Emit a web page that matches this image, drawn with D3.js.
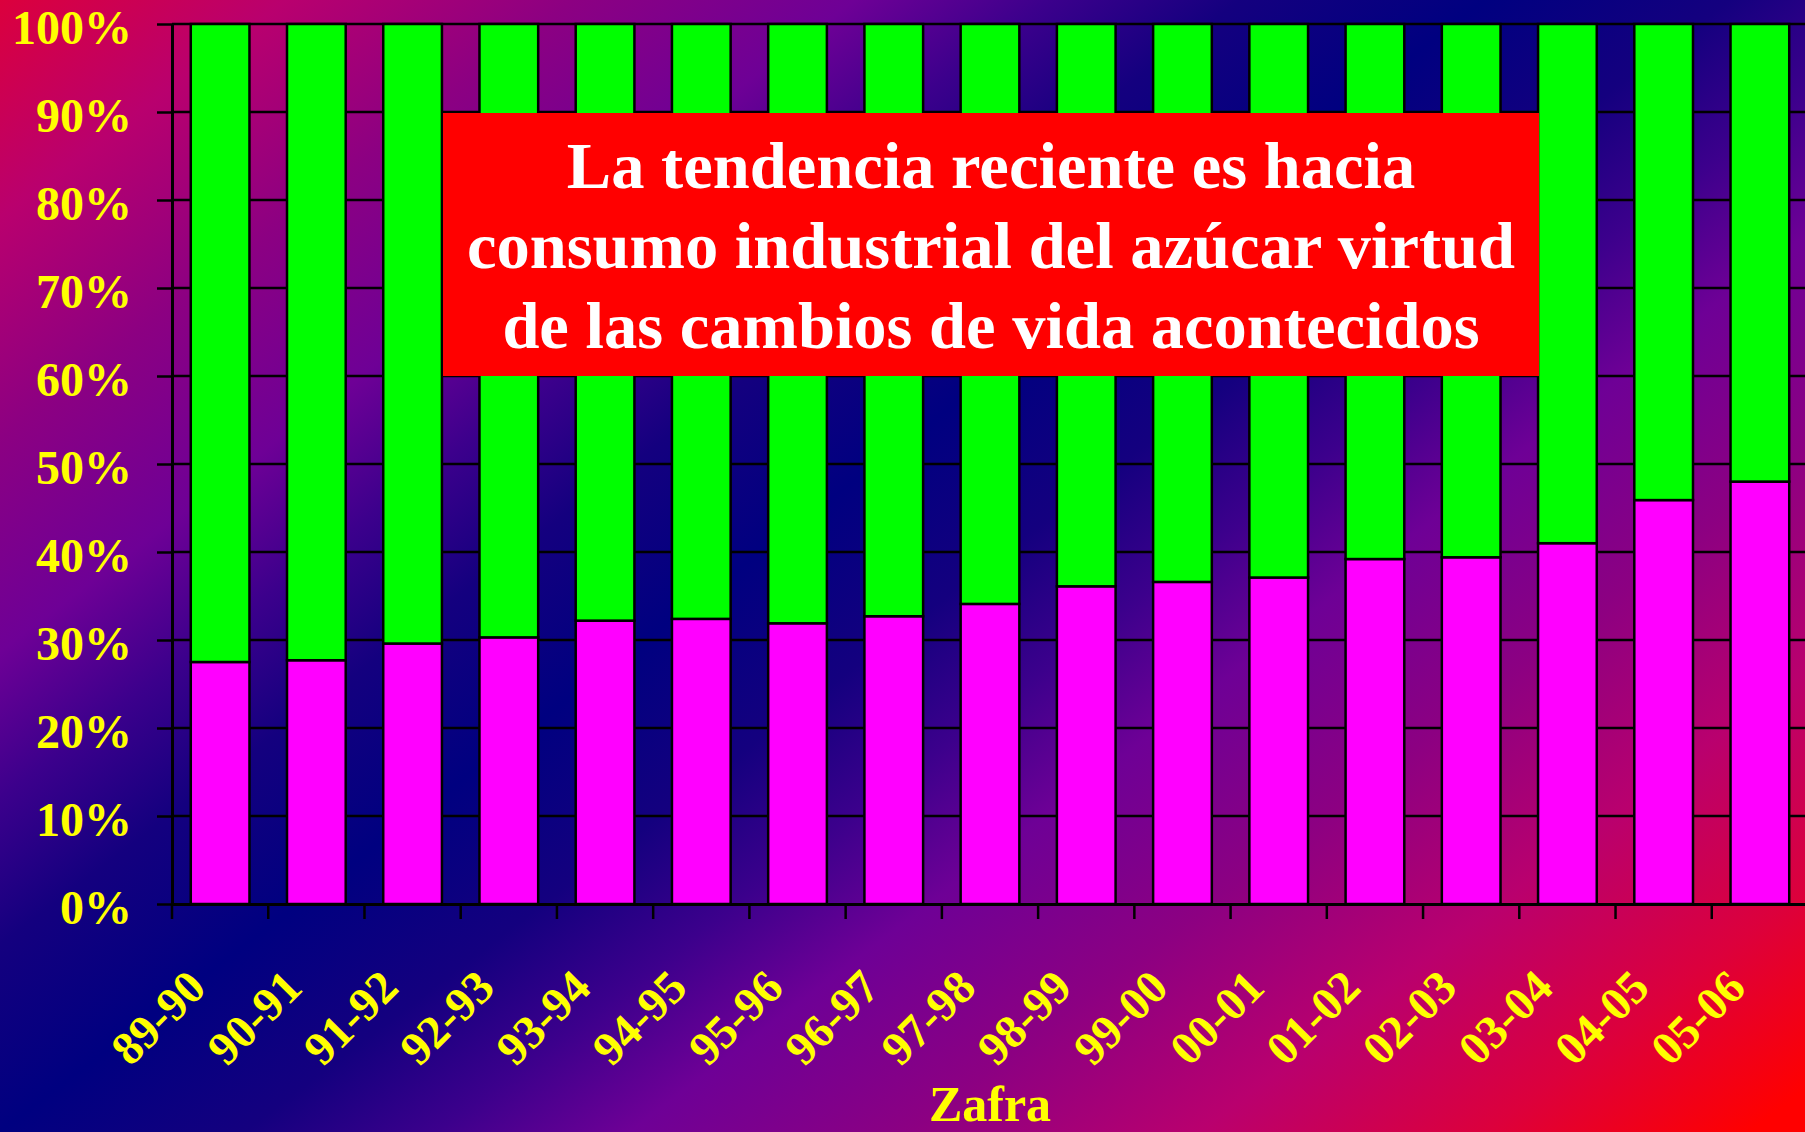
<!DOCTYPE html>
<html>
<head>
<meta charset="utf-8">
<script src="https://cdn.jsdelivr.net/npm/d3@7"></script>
<style>
  html, body { margin: 0; padding: 0; background: #000080; }
  svg { display: block; }
</style>
</head>
<body>
<svg id="chart" width="1805" height="1132"></svg>
<script>
// ---- data ----
const categories = ["89-90","90-91","91-92","92-93","93-94","94-95","95-96","96-97","97-98","98-99","99-00","00-01","01-02","02-03","03-04","04-05","05-06"];
const industrialPct = [27.5, 27.7, 29.6, 30.3, 32.2, 32.4, 31.9, 32.7, 34.1, 36.1, 36.6, 37.1, 39.2, 39.4, 41.0, 45.9, 48.0];
const domesticPct = industrialPct.map(v => 100 - v);
const yTicks = [0,10,20,30,40,50,60,70,80,90,100];
const xTitle = "Zafra";
const noteLines = ["La tendencia reciente es hacia", "consumo industrial del azúcar virtud", "de las cambios de vida acontecidos"];

// ---- layout ----
const W = 1805, H = 1132;
const plot = { left: 172, right: 1808, top: 24, bottom: 904 };
const serif = "'Liberation Serif', 'Times New Roman', Times, serif";

const svg = d3.select("#chart");
const defs = svg.append("defs");
const grad = defs.append("linearGradient")
  .attr("id", "bg").attr("gradientUnits", "userSpaceOnUse")
  .attr("x1", 842).attr("y1", -844).attr("x2", 2128).attr("y2", 844);
// background ramp: red -> magenta/purple -> navy -> purple -> red
const ramp = [
  [0, "#000080"], [0.14, "#14007f"], [0.25, "#3c008c"], [0.36, "#6e0096"],
  [0.52, "#8c0082"], [0.685, "#b9006e"], [0.85, "#dc003c"], [1, "#ff0000"]
];
const stops = [];
ramp.forEach(([f, c]) => { stops.push([0.5 - f / 2, c]); if (f > 0) stops.push([0.5 + f / 2, c]); });
stops.sort((a, b) => a[0] - b[0]);
grad.selectAll("stop").data(stops).join("stop")
  .attr("offset", d => d[0]).attr("stop-color", d => d[1]);
svg.append("rect").attr("width", W).attr("height", H).attr("fill", "url(#bg)");

const x = d3.scaleBand().domain(categories).range([plot.left, plot.right])
  .paddingInner(0.39).paddingOuter(0.195);
const y = d3.scaleLinear().domain([0, 100]).range([plot.bottom, plot.top]);

// gridlines
svg.append("g").selectAll("line").data(yTicks.filter(d => d > 0)).join("line")
  .attr("x1", plot.left).attr("x2", plot.right)
  .attr("y1", d => y(d)).attr("y2", d => y(d))
  .attr("stroke", "#000").attr("stroke-width", 2.5);

// bars
const rows = categories.map((c, i) => ({ c, ind: industrialPct[i], dom: domesticPct[i] }));
const bars = svg.append("g");
bars.selectAll("rect.ind").data(rows).join("rect").attr("class", "ind")
  .attr("x", d => x(d.c)).attr("width", x.bandwidth())
  .attr("y", d => y(d.ind)).attr("height", d => y(0) - y(d.ind))
  .attr("fill", "#ff00ff").attr("stroke", "#000").attr("stroke-width", 2.5);
bars.selectAll("rect.dom").data(rows).join("rect").attr("class", "dom")
  .attr("x", d => x(d.c)).attr("width", x.bandwidth())
  .attr("y", d => y(d.ind + d.dom)).attr("height", d => y(d.ind) - y(d.ind + d.dom))
  .attr("fill", "#00ff00").attr("stroke", "#000").attr("stroke-width", 2.5);

// y axis
const yAxis = svg.append("g").attr("transform", `translate(${plot.left},0)`)
  .call(d3.axisLeft(y).tickValues(yTicks).tickSize(15).tickSizeOuter(0).tickFormat(d => d + "%"));
yAxis.select(".domain").attr("stroke", "#000").attr("stroke-width", 3);
yAxis.selectAll(".tick line").attr("stroke", "#000").attr("stroke-width", 2.5);
yAxis.selectAll(".tick text")
  .attr("x", -40).attr("dy", "0.4em")
  .attr("fill", "#ffff00").attr("font-family", serif).attr("font-weight", "bold").attr("font-size", 48);

// x axis
const xAxis = svg.append("g").attr("transform", `translate(0,${plot.bottom})`)
  .call(d3.axisBottom(x).tickSize(0).tickSizeOuter(0));
xAxis.select(".domain").attr("stroke", "#000").attr("stroke-width", 3);
xAxis.selectAll(".tick text")
  .attr("text-anchor", "end")
  .attr("transform", "translate(-12,86) rotate(-45)")
  .attr("x", 0).attr("y", 0).attr("dy", 0)
  .attr("fill", "#ffff00").attr("font-family", serif).attr("font-weight", "bold").attr("font-size", 47);
const gap = x.step() * x.paddingInner() / 2;
svg.append("g").selectAll("line").data(categories).join("line")
  .attr("x1", d => x(d) - gap).attr("x2", d => x(d) - gap)
  .attr("y1", plot.bottom).attr("y2", plot.bottom + 15)
  .attr("stroke", "#000").attr("stroke-width", 2.5);

// x title
svg.append("text").attr("x", (plot.left + plot.right) / 2).attr("y", 1121)
  .attr("text-anchor", "middle").attr("fill", "#ffff00")
  .attr("font-family", serif).attr("font-weight", "bold").attr("font-size", 50)
  .text(xTitle);

// annotation box
svg.append("rect").attr("x", 443).attr("y", 113).attr("width", 1096).attr("height", 263).attr("fill", "#ff0000");
svg.append("g").selectAll("text").data(noteLines).join("text")
  .attr("x", 991).attr("y", (d, i) => 188 + i * 80)
  .attr("text-anchor", "middle").attr("fill", "#ffffff")
  .attr("font-family", serif).attr("font-weight", "bold").attr("font-size", 66.5)
  .text(d => d);
</script>
</body>
</html>
